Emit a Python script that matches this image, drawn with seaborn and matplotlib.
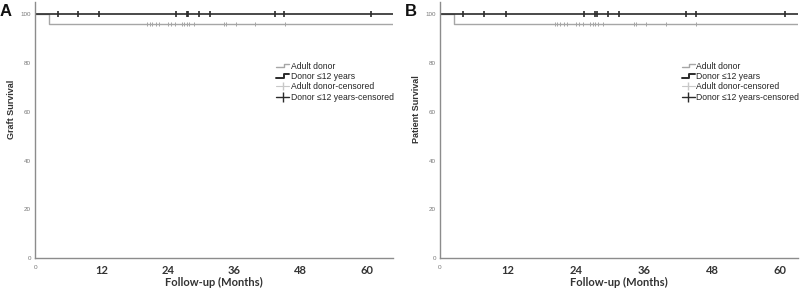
import numpy as np
import pandas as pd
import matplotlib
matplotlib.use("Agg")
import matplotlib.pyplot as plt
import seaborn as sns
from matplotlib.lines import Line2D
from matplotlib.legend_handler import HandlerBase

# curva de sobrevida (degraus) - grupo adulto cai para ~96% logo no inicio
adult_time = [0, 2.5, 65]
adult_surv = [100, 96, 96]
child_time = [0, 65]
child_surv = [100, 100]

# meses dos casos censurados
adult_cens = [20.3, 20.7, 21.2, 21.8, 22.4, 24.0, 24.5, 25.3, 26.5, 27.0,
              27.4, 27.8, 28.8, 34.2, 34.5, 36.3, 39.8, 45.2]
child_cens = [4.1, 7.8, 11.6, 25.4, 27.4, 27.6, 29.7, 31.6, 43.3, 45.1, 60.8]

panels = ["A", "B"]
ylabels = ["Graft Survival", "Patient Survival"]
xticks = [0, 12, 24, 36, 48, 60]
yticks = [0, 20, 40, 60, 80, 100]
legend_labels = ["Adult donor", "Donor \u226412 years",
                 "Adult donor-censored", "Donor \u226412 years-censored"]

GRAY = "#a6a6a6"
BLACK = "#2b2b2b"

sns.set_style("white")
plt.rcParams["font.family"] = ["Liberation Sans", "DejaVu Sans"]


class StepHandler(HandlerBase):
    # desenha o simbolo em degrau da legenda (estilo SPSS)
    def create_artists(self, legend, orig_handle, xdescent, ydescent,
                       width, height, fontsize, trans):
        xs = np.array([0, 0.55, 0.55, 1.0]) * width - xdescent
        ys = np.array([0.25, 0.25, 0.85, 0.85]) * height - ydescent
        ln = Line2D(xs, ys, color=orig_handle.get_color(),
                    lw=orig_handle.get_linewidth())
        ln.set_transform(trans)
        return [ln]


fig = plt.figure(figsize=(8, 2.91), dpi=100)
boxes = [[0.044, 0.113, 0.447, 0.880], [0.550, 0.113, 0.448, 0.880]]

adult_df = pd.DataFrame({"t": adult_time, "s": adult_surv})
child_df = pd.DataFrame({"t": child_time, "s": child_surv})
adult_c = pd.DataFrame({"t": adult_cens, "s": [adult_surv[-1]] * len(adult_cens)})
child_c = pd.DataFrame({"t": child_cens, "s": [child_surv[-1]] * len(child_cens)})

for i, box in enumerate(boxes):
    ax = fig.add_axes(box)
    sns.lineplot(data=adult_df, x="t", y="s", ax=ax, color=GRAY, lw=1.0,
                 drawstyle="steps-post", estimator=None, sort=False)
    sns.lineplot(data=child_df, x="t", y="s", ax=ax, color=BLACK, lw=1.2,
                 drawstyle="steps-post", estimator=None, sort=False)
    sns.scatterplot(data=adult_c, x="t", y="s", ax=ax, marker="|", s=12,
                    color=GRAY, linewidth=0.7)
    sns.scatterplot(data=child_c, x="t", y="s", ax=ax, marker="|", s=16,
                    color=BLACK, linewidth=1.2)

    ax.set_xlim(0, 64.7 if i == 0 else 63.2)
    ax.set_ylim(0, 105)
    ax.set_xticks(xticks)
    ax.set_yticks(yticks)
    ax.set_xticklabels([str(v) for v in xticks])
    ax.set_yticklabels([str(v) for v in yticks])
    ax.tick_params(axis="y", length=0, pad=3, labelsize=4.5, labelcolor="#777777")
    ax.tick_params(axis="x", length=0, pad=5, labelsize=8, labelcolor="#333333")
    for lab in ax.get_xticklabels():
        lab.set_family(["Lato", "DejaVu Sans"])
        lab.set_fontweight("bold")
    z = ax.get_xticklabels()[0]
    z.set_fontsize(4.5)
    z.set_fontweight("normal")
    z.set_color("#777777")

    for s in ["top", "right"]:
        ax.spines[s].set_visible(False)
    for s in ["left", "bottom"]:
        ax.spines[s].set_color("#8c8c8c")
        ax.spines[s].set_linewidth(1.0)

    ax.set_xlabel("Follow-up (Months)", fontsize=8, fontweight="bold",
                  family=["Lato", "DejaVu Sans"], color="#333333", labelpad=1)
    ax.set_ylabel(ylabels[i], fontsize=6.5, fontweight="bold", color="#333333")
    ax.yaxis.set_label_coords(-0.053, 0.58)

    handles = [Line2D([], [], color=GRAY, lw=1.0),
               Line2D([], [], color=BLACK, lw=1.4),
               Line2D([], [], color="#c8c8c8", lw=0.8, marker="|", markersize=6),
               Line2D([], [], color=BLACK, lw=1.0, marker="|", markersize=7)]
    hmap = {handles[0]: StepHandler(), handles[1]: StepHandler()}
    ax.legend(handles, legend_labels, handler_map=hmap, loc="upper left",
              bbox_to_anchor=(0.665, 0.78), frameon=False, fontsize=6.2,
              handlelength=1.5, handletextpad=0.2, labelspacing=0.15,
              borderaxespad=0)

    fig.text(box[0] - 0.044, 0.985, panels[i], fontsize=12, fontweight="bold",
             va="top", ha="left", color="#111111")

fig.savefig("out.png", dpi=100)
